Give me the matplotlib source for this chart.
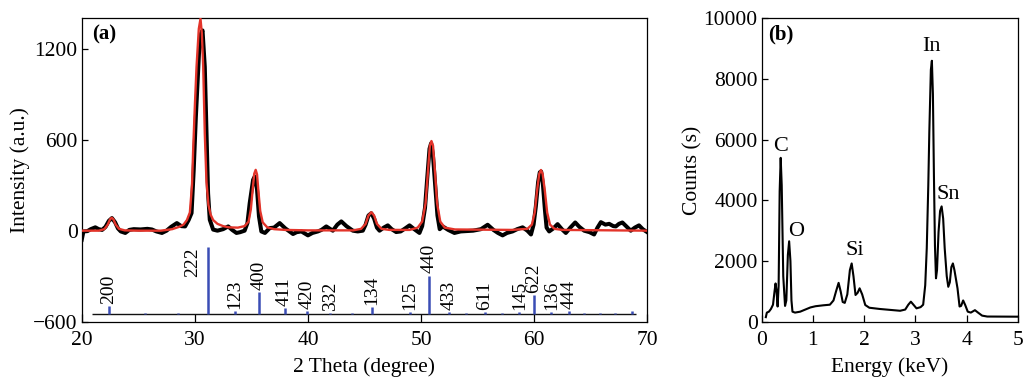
import matplotlib
matplotlib.use('Agg')
import matplotlib.pyplot as plt

# ---------------- data: XRD (panel a) ----------------
obs_tt = [20.0, 20.15, 20.5, 20.8, 21.2, 21.5, 21.8, 22.1, 22.4, 22.67, 22.95, 23.2, 23.45, 23.85,
          24.2, 24.6, 25.2, 25.8, 26.2, 26.6, 27.09, 27.5, 27.9, 28.41, 28.8, 29.14, 29.45, 29.71,
          29.9, 30.09, 30.38, 30.55, 30.68, 30.88, 31.03, 31.17, 31.32, 31.62, 32.0, 32.5, 32.95,
          33.3, 33.68, 34.0, 34.4, 34.65, 34.85, 35.15, 35.3, 35.5, 35.67, 35.88, 36.2, 36.62, 37.0,
          37.5, 38.0, 38.68, 39.0, 39.42, 40.0, 40.4, 40.88, 41.2, 41.62, 42.2, 42.6, 42.95, 43.4,
          43.97, 44.4, 44.85, 45.1, 45.35, 45.6, 45.85, 46.1, 46.33, 46.7, 47.06, 47.4, 47.8, 48.2,
          48.6, 48.98, 49.4, 49.86, 50.1, 50.35, 50.55, 50.75, 50.89, 51.05, 51.25, 51.45, 51.65,
          51.92, 52.4, 52.95, 53.5, 54.0, 54.6, 55.3, 55.89, 56.4, 56.8, 57.21, 57.6, 58.09, 58.5,
          58.98, 59.4, 59.72, 59.95, 60.15, 60.35, 60.5, 60.62, 60.78, 60.95, 61.1, 61.33, 61.7,
          62.07, 62.45, 62.8, 63.2, 63.63, 64.0, 64.42, 64.9, 65.3, 65.6, 65.9, 66.3, 66.63, 67.0,
          67.22, 67.5, 67.8, 68.2, 68.54, 68.9, 69.27, 69.6, 70.0]
obs_I = [-60, -5, -3, 10, 22, 10, 5, 25, 65, 83, 55, 15, -5, -15,
         5, 10, 8, 12, 8, -5, -15, 0, 25, 50, 30, 28, 70, 116,
         400, 750, 1189, 1300, 1320, 1080, 641, 247, 72, 7, 0, 10, 28,
         5, -15, -10, 0, 50, 181, 335, 357, 270, 94, -5, -15, 17, 20,
         50, 15, -22, -10, -5, -31, -15, -5, 5, 28, 0, 40, 61, 30,
         0, -5, 0, 40, 100, 115, 80, 20, 0, 20, 35, 10, -9, -5,
         15, 35, 10, -15, 30, 150, 350, 540, 576, 500, 300, 100, 10,
         28, 5, -15, -5, -3, 0, 10, 39, 5, -15, -31, -15, -5, 10,
         22, 0, -25, 40, 160, 320, 385, 390, 300, 140, 20, -5, 15,
         43, 10, -15, 20, 54, 25, 0, -10, -25, 20, 56, 40, 45, 30,
         28, 45, 54, 25, 0, 20, 35, 10, -10]

fit_tt = [20.0, 21.5, 22.0, 22.3, 22.5, 22.65, 22.8, 23.0, 23.3, 23.8, 25.0, 27.0, 28.0, 28.6,
          29.0, 29.3, 29.56, 29.75, 29.85, 30.0, 30.15, 30.35, 30.5, 30.62, 30.74, 30.88, 31.03,
          31.2, 31.4, 31.62, 32.0, 32.5, 33.0, 33.8, 34.4, 34.75, 34.95, 35.1, 35.25, 35.38, 35.5,
          35.62, 35.78, 36.0, 36.4, 37.0, 38.0, 40.0, 44.0, 44.7, 45.1, 45.35, 45.6, 45.85, 46.1,
          46.5, 47.2, 49.0, 49.7, 50.1, 50.4, 50.6, 50.78, 50.92, 51.06, 51.24, 51.42, 51.7, 52.1,
          53.0, 58.0, 59.4, 59.8, 60.05, 60.25, 60.45, 60.6, 60.75, 60.95, 61.15, 61.4, 61.8, 62.5,
          70.0]
fit_I = [0, 0, 10, 40, 75, 85, 75, 40, 12, 2, 0, 0, 10, 25,
         40, 70, 120, 300, 530, 820, 1080, 1330, 1397, 1300, 1080, 640, 320,
         170, 105, 70, 45, 30, 22, 20, 30, 60, 140, 260, 375, 401, 370,
         260, 130, 55, 22, 10, 5, 2, 2, 12, 45, 100, 122, 100, 45,
         12, 5, 5, 20, 60, 180, 380, 560, 591, 560, 380, 180, 60, 20,
         8, 5, 12, 40, 120, 260, 375, 400, 375, 260, 120, 40, 12, 5,
         0]

ref_pos = [22.37, 25.57, 28.51, 31.13, 33.51, 35.70, 37.93, 39.95, 41.98, 43.87, 45.67, 49.04,
           50.74, 52.44, 54.0, 55.65, 57.18, 58.69, 59.99, 61.53, 63.06, 64.37, 65.78, 67.15, 68.66]
ref_top = [-497, -540, -540, -108, -530, -405, -510, -530, -540, -540, -504, -535,
           -296, -535, -542, -535, -542, -535, -425, -537, -532, -542, -542, -542, -532]
ref_hkl = ['200', '', '', '222', '123', '400', '411', '420', '332', '', '134', '125',
           '440', '433', '', '611', '', '145', '622', '136', '444', '', '', '', '']
ref_base = -552
ref_span = [20.9, 69.0]

# ---------------- data: EDS (panel b) ----------------
eds_E = [0.08, 0.10, 0.14, 0.18, 0.22, 0.25, 0.27, 0.29, 0.31, 0.33, 0.35, 0.37, 0.39, 0.42,
         0.455, 0.48, 0.51, 0.535, 0.56, 0.58, 0.60, 0.65, 0.75, 0.85, 0.95, 1.05, 1.2, 1.33,
         1.40, 1.45, 1.50, 1.54, 1.58, 1.62, 1.67, 1.72, 1.755, 1.79, 1.83, 1.87, 1.91, 1.96,
         2.02, 2.1, 2.3, 2.5, 2.7, 2.80, 2.86, 2.91, 2.96, 3.02, 3.1, 3.15, 3.19, 3.22, 3.25,
         3.27, 3.30, 3.32, 3.34, 3.36, 3.38, 3.40, 3.42, 3.45, 3.48, 3.51, 3.54, 3.57, 3.61,
         3.64, 3.67, 3.70, 3.73, 3.76, 3.82, 3.86, 3.89, 3.93, 3.97, 4.02, 4.08, 4.16, 4.22,
         4.3, 4.4, 5.0]
eds_C = [150, 300, 330, 420, 560, 1000, 1260, 1000, 500, 1200, 4300, 5400, 4500, 1500,
         520, 700, 2200, 2650, 2000, 700, 330, 300, 330, 400, 470, 510, 540, 560,
         700, 1000, 1280, 1000, 650, 620, 900, 1700, 1920, 1500, 880, 950, 1100, 900,
         550, 460, 420, 390, 360, 400, 560, 660, 560, 440, 480, 560, 1200, 2420, 4500,
         6260, 8300, 8600, 7500, 4800, 2500, 1430, 1700, 2960, 3650, 3800, 3400, 2420, 1500,
         1150, 1300, 1800, 1920, 1700, 1100, 500, 520, 700, 550, 330, 300, 380, 300,
         200, 170, 165]
el_names = ['C', 'O', 'Si', 'In', 'Sn']
el_E = [0.36, 0.68, 1.82, 3.32, 3.64]
el_C = [5770, 2970, 2360, 9060, 4180]

# ---------------- styling ----------------
plt.rcParams['font.family'] = ['Liberation Serif', 'DejaVu Serif']
plt.rcParams['font.size'] = 15.5
plt.rcParams['axes.linewidth'] = 0.9

fig = plt.figure(figsize=(10.23, 3.77), dpi=100)
ax1 = fig.add_axes([0.0799, 0.1467, 0.5528, 0.8048])
ax2 = fig.add_axes([0.7446, 0.1467, 0.2505, 0.8048])

blue = '#3a4db5'
ax1.plot(obs_tt, obs_I, color='#000000', lw=2.9, solid_joinstyle='round', zorder=3)
ax1.plot(fit_tt, fit_I, color='#e3342a', lw=1.7, zorder=4)
ax1.hlines(ref_base, ref_span[0], ref_span[1], color='#111111', lw=1.0, zorder=2)
ax1.vlines(ref_pos, ref_base, ref_top, color=blue, lw=1.8, zorder=3)
for x, top, lab in zip(ref_pos, ref_top, ref_hkl):
    if not lab:
        continue
    if lab == '222':
        ax1.annotate(lab, (x, top), xytext=(-5, 0), textcoords='offset points',
                     rotation=90, ha='right', va='top', fontsize=14)
    else:
        ax1.annotate(lab, (x, top), xytext=(0, 1.5), textcoords='offset points',
                     rotation=90, ha='center', va='bottom', fontsize=14)

ax1.set_xlim(20, 70)
ax1.set_ylim(-600, 1400)
ax1.set_xticks([20, 30, 40, 50, 60, 70])
ax1.set_yticks([-600, 0, 600, 1200])
ax1.tick_params(axis='x', direction='in', length=6, width=0.9, pad=7)
ax1.tick_params(axis='y', direction='in', length=4, width=0.9, pad=3)
ax1.set_xlabel('2 Theta (degree)', labelpad=5)
ax1.set_ylabel('Intensity (a.u.)', labelpad=2)
ax1.text(0.018, 0.945, '(a)', transform=ax1.transAxes, fontweight='bold',
         ha='left', va='center', fontsize=15)

ax2.plot(eds_E, eds_C, color='#000000', lw=1.5, solid_joinstyle='round')
for n, e, c in zip(el_names, el_E, el_C):
    ax2.text(e, c, n, ha='center', va='center', fontsize=16)
ax2.set_xlim(0, 5)
ax2.set_ylim(0, 10000)
ax2.set_xticks([0, 1, 2, 3, 4, 5])
ax2.set_yticks([0, 2000, 4000, 6000, 8000, 10000])
ax2.tick_params(axis='x', direction='in', length=5, width=0.9, pad=7)
ax2.tick_params(axis='y', direction='in', length=4, width=0.9, pad=3)
ax2.set_xlabel('Energy (keV)', labelpad=5)
ax2.set_ylabel('Counts (s)', labelpad=1)
ax2.text(0.025, 0.945, '(b)', transform=ax2.transAxes, fontweight='bold',
         ha='left', va='center', fontsize=15)

fig.savefig('out.png', dpi=100)
